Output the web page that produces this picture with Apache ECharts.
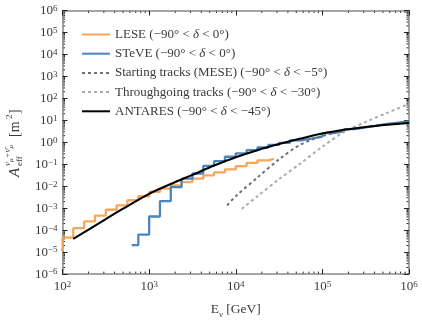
<!DOCTYPE html>
<html>
<head>
<meta charset="utf-8">
<script src="https://cdn.jsdelivr.net/npm/echarts@6/dist/echarts.min.js"></script>
<style>html,body{margin:0;padding:0;background:#fff}#main{width:422px;height:324px}</style>
</head>
<body>
<div id="main"></div>
<script>
// LESE histogram: bin edges [GeV] and effective area per bin [m^2]
var lese_edges = [75, 100, 133, 178, 237, 316, 422, 562, 750, 1000, 1334, 1778, 2371, 3162, 4217, 5623, 7499, 10000, 13335, 17783, 23714, 27500];
var lese_aeff = [1.26e-5, 4.6e-5, 1.23e-4, 2.5e-4, 4.6e-4, 8.5e-4, 1.35e-3, 2.3e-3, 3.5e-3, 5.5e-3, 7.8e-3, 0.011, 0.0155, 0.022, 0.031, 0.043, 0.059, 0.083, 0.115, 0.151, 0.174];
// STeVE histogram
var steve_edges = [630, 750, 1000, 1334, 1778, 2371, 3162, 4217, 5623, 7499, 10000, 13335, 17783, 23714, 31623, 42170, 56234, 74989, 100000, 133352, 177828, 237137, 316228, 421697, 562341, 749894, 1000000];
var steve_aeff = [2.1e-5, 6.3e-5, 4.2e-4, 2.1e-3, 9.1e-3, 0.022, 0.038, 0.085, 0.14, 0.22, 0.31, 0.44, 0.58, 0.76, 0.95, 1.23, 1.48, 1.82, 2.6, 3.16, 4.0, 4.8, 5.75, 6.8, 7.8, 8.9];
// Starting tracks (MESE)
var mese_e = [7943, 10000, 17783, 31623, 56234, 100000, 177828, 316228, 562341, 1000000];
var mese_aeff = [1.35e-3, 3.5e-3, 0.025, 0.166, 0.8, 1.9, 3.5, 5.0, 6.6, 8.3];
// Throughgoing tracks
var thru_e = [11750, 17783, 31623, 56234, 100000, 177828, 316228, 562341, 1000000];
var thru_aeff = [9.3e-4, 3.5e-3, 0.021, 0.112, 0.63, 2.95, 8.5, 22, 56];
// ANTARES
var antares_e = [133, 200, 316, 500, 1000, 1778, 3162, 5623, 10000, 17783, 31623, 56234, 100000, 177828, 316228, 562341, 1000000];
var antares_aeff = [4.0e-5, 1.05e-4, 3.2e-4, 9.5e-4, 4.5e-3, 0.0126, 0.033, 0.087, 0.21, 0.44, 0.83, 1.48, 2.5, 3.7, 5.0, 6.3, 7.6];

var seriesNames = ['LESE', 'STeVE', 'Starting', 'Throughgoing', 'ANTARES'];
var legendTexts = {
    'LESE': 'LESE (−90° < {i|δ} < 0°)',
    'STeVE': 'STeVE (−90° < {i|δ} < 0°)',
    'Starting': 'Starting tracks (MESE) (−90° < {i|δ} < −5°)',
    'Throughgoing': 'Throughgoing tracks (−90° < {i|δ} < −30°)',
    'ANTARES': 'ANTARES (−90° < {i|δ} < −45°)'
};

var FONT = 'Liberation Serif';
var TXT = '#3a3a3a';

function steps(edges, vals) {
    var d = [];
    for (var i = 0; i < vals.length; i++) d.push([edges[i], vals[i]]);
    d.push([edges[vals.length], vals[vals.length - 1]]);
    return d;
}
function pairs(xs, ys) {
    return xs.map(function (x, i) { return [x, ys[i]]; });
}
function powLabel(v) {
    var e = Math.round(Math.log10(v));
    return '{b|10}{s|' + String(e).replace('-', '−') + '}';
}
var labelRich = {
    b: { fontFamily: FONT, fontSize: 13, color: TXT, lineHeight: 13, verticalAlign: 'bottom' },
    s: { fontFamily: FONT, fontSize: 9, color: TXT, lineHeight: 9, padding: [0, 0, 8, 0], verticalAlign: 'top' }
};

var axisCommon = {
    type: 'log',
    logBase: 10,
    interval: 1,
    splitLine: { show: false },
    axisLine: { show: true, lineStyle: { color: '#888', width: 1.5 } },
    axisTick: { show: true, inside: true, length: 5, lineStyle: { color: '#222', width: 1 } }
};

var chart = echarts.init(document.getElementById('main'));
chart.setOption({
    animation: false,
    grid: { left: 62.5, right: 13, top: 10.5, bottom: 45.3, containLabel: false },
    legend: {
        left: 76, top: 23, orient: 'vertical',
        itemWidth: 28, itemHeight: 12, itemGap: 6.2,
        data: seriesNames,
        itemStyle: { opacity: 0 },
        formatter: function (n) { return legendTexts[n]; },
        textStyle: {
            fontFamily: FONT, fontSize: 13, color: TXT,
            rich: { i: { fontFamily: FONT, fontSize: 13, fontStyle: 'italic', color: TXT } }
        }
    },
    xAxis: [
        Object.assign({}, axisCommon, {
            min: 100, max: 1e6, position: 'bottom',
            axisLabel: { formatter: powLabel, rich: labelRich, margin: 6 },
            name: '{e|E}{u|ν} {e|[GeV]}', nameLocation: 'middle', nameGap: 26,
            nameTextStyle: {
                rich: {
                    e: { fontFamily: FONT, fontSize: 13.5, color: TXT, lineHeight: 14, verticalAlign: 'top' },
                    u: { fontFamily: FONT, fontSize: 9, color: TXT, lineHeight: 9, padding: [8, 0, 0, 0], verticalAlign: 'top' }
                }
            }
        }),
        Object.assign({}, axisCommon, {
            min: 100, max: 1e6, position: 'top', axisLabel: { show: false }
        })
    ],
    yAxis: [
        Object.assign({}, axisCommon, {
            min: 1e-6, max: 1e6, position: 'left',
            axisLabel: { formatter: powLabel, rich: labelRich, margin: 5, interval: 0 }
        }),
        Object.assign({}, axisCommon, {
            min: 1e-6, max: 1e6, position: 'right', axisLabel: { show: false }
        })
    ],
    series: [
        { name: 'LESE', type: 'line', step: 'end', showSymbol: false, symbol: 'none',
          data: steps(lese_edges, lese_aeff), lineStyle: { color: '#f8a65b', width: 2.3 }, itemStyle: { color: '#f8a65b' } },
        { name: 'STeVE', type: 'line', step: 'end', showSymbol: false, symbol: 'none',
          data: steps(steve_edges, steve_aeff), lineStyle: { color: '#4a85bd', width: 2.3 }, itemStyle: { color: '#4a85bd' } },
        { name: 'Starting', type: 'line', smooth: 0.3, showSymbol: false, symbol: 'none',
          data: pairs(mese_e, mese_aeff), lineStyle: { color: '#6f6f6f', width: 2, type: [3, 3] }, itemStyle: { color: '#6f6f6f' } },
        { name: 'Throughgoing', type: 'line', smooth: 0.3, showSymbol: false, symbol: 'none',
          data: pairs(thru_e, thru_aeff), lineStyle: { color: '#ababab', width: 2, type: [3, 3] }, itemStyle: { color: '#ababab' } },
        { name: 'ANTARES', type: 'line', smooth: 0.3, showSymbol: false, symbol: 'none',
          data: pairs(antares_e, antares_aeff), lineStyle: { color: '#000', width: 2.1 }, itemStyle: { color: '#000' } }
    ]
});

// minor ticks at 2..9 x 10^k on all four sides, placed through the axes' own scales
function px(x, y) { return chart.convertToPixel({ xAxisIndex: 0, yAxisIndex: 0 }, [x, y]); }
var bl = px(100, 1e-6), tr = px(1e6, 1e6);
var ticks = [];
function tick(x1, y1, x2, y2) {
    ticks.push({ type: 'line', silent: true, shape: { x1: x1, y1: y1, x2: x2, y2: y2 }, style: { stroke: '#222', lineWidth: 1 } });
}
for (var k = 2; k < 6; k++) {
    for (var m = 2; m < 10; m++) {
        var p = px(m * Math.pow(10, k), 1);
        tick(p[0], bl[1], p[0], bl[1] - 2.5);
        tick(p[0], tr[1], p[0], tr[1] + 2.5);
    }
}
for (var k = -6; k < 6; k++) {
    for (var m = 2; m < 10; m++) {
        var q = px(1000, m * Math.pow(10, k));
        tick(bl[0], q[1], bl[0] + 2.5, q[1]);
        tick(tr[0], q[1], tr[0] - 2.5, q[1]);
    }
}
// y axis title, rotated
var ys = { fill: TXT, fontFamily: FONT };
var ytitle = {
    type: 'group', x: 15, y: 177, rotation: Math.PI / 2,
    children: [
        { type: 'text', x: 0, y: 0, style: Object.assign({ text: 'A', fontSize: 15, fontStyle: 'italic', verticalAlign: 'middle' }, ys) },
        { type: 'text', x: 11, y: 5, style: Object.assign({ text: 'eff', fontSize: 9, verticalAlign: 'middle' }, ys) },
        { type: 'text', x: 11, y: -7, style: Object.assign({ text: '{n|ν}{m|μ}{n|+}{n|ν̄}{m|μ}', verticalAlign: 'middle',
            rich: { n: { fontFamily: FONT, fontSize: 9, fontStyle: 'italic', fill: TXT, lineHeight: 9, verticalAlign: 'top' },
                    m: { fontFamily: FONT, fontSize: 7, fontStyle: 'italic', fill: TXT, lineHeight: 7, padding: [4, 0, 0, 0], verticalAlign: 'top' } } }, ys) },
        { type: 'text', x: 40, y: 0, style: Object.assign({ text: '[m', fontSize: 14, verticalAlign: 'middle' }, ys) },
        { type: 'text', x: 58, y: -5, style: Object.assign({ text: '2', fontSize: 9, verticalAlign: 'middle' }, ys) },
        { type: 'text', x: 63, y: 0, style: Object.assign({ text: ']', fontSize: 14, verticalAlign: 'middle' }, ys) }
    ]
};
chart.setOption({ graphic: ticks.concat([ytitle]) });
</script>
</body>
</html>
